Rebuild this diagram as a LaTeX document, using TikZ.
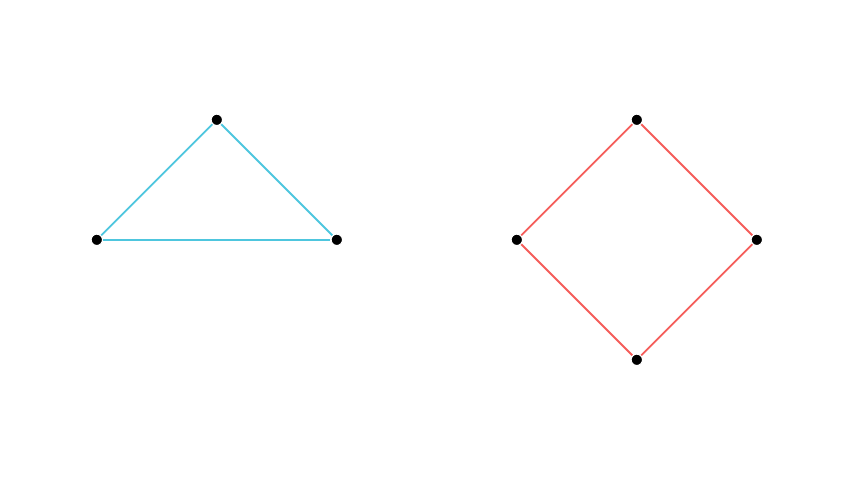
\documentclass[tikz,border=0pt]{standalone}
\definecolor{cyanline}{HTML}{4EC6DE}
\definecolor{redline}{HTML}{F55D5A}
\tikzset{
  vtx/.style={circle,fill=black,draw=white,line width=1.2pt,inner sep=0pt,minimum size=11.5pt},
  tri/.style={draw=cyanline,line width=1.8pt},
  dia/.style={draw=redline,line width=1.8pt}
}
\begin{document}
\begin{tikzpicture}[x=1pt,y=-1pt]
\useasboundingbox[fill=white] (0,0) rectangle (854,480);
\node[vtx] (a) at (96.8,239.8) {};
\node[vtx] (b) at (216.8,119.8) {};
\node[vtx] (c) at (336.8,239.8) {};
\node[vtx] (d) at (516.8,239.8) {};
\node[vtx] (e) at (636.8,119.8) {};
\node[vtx] (f) at (756.8,239.8) {};
\node[vtx] (g) at (636.8,359.8) {};
\draw[tri] (a) -- (b);
\draw[tri] (b) -- (c);
\draw[tri] (a) -- (c);
\draw[dia] (d) -- (e);
\draw[dia] (e) -- (f);
\draw[dia] (f) -- (g);
\draw[dia] (g) -- (d);
\end{tikzpicture}
\end{document}
